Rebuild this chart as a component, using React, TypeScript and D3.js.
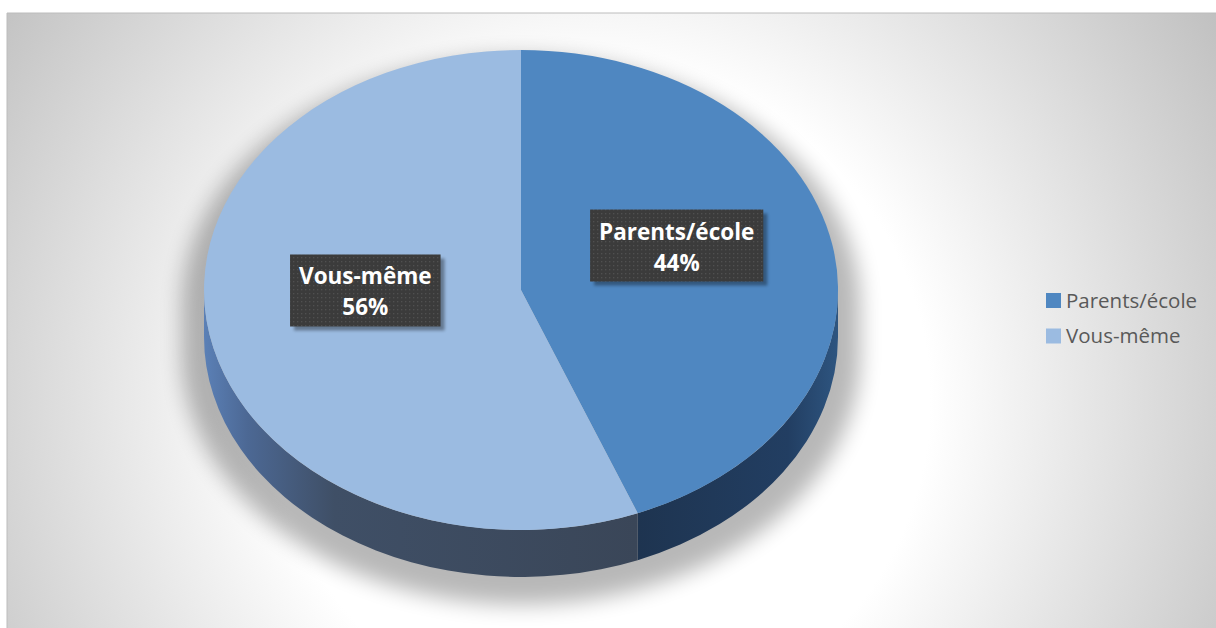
import React from "react";
import * as d3 from "d3";

const categories = ["Parents/école", "Vous-même"];
const values = [44, 56];
const percentLabels = ["44%", "56%"];
const topColors = ["#4f87c1", "#9bbbe1"];
const sideColorStops: [number, string][][] = [
  [[0, "#1e3450"], [0.75, "#223e62"], [1, "#2e5580"]],
  [[0, "#5b80b6"], [0.1, "#4c6894"], [0.3, "#3f4f66"], [1, "#3a4658"]],
];

const W = 1216;
const H = 628;
const cx = 521;
const cy = 290;
const rx = 317;
const ry = 240;
const depth = 47;

const LABEL_FONT = "bold 22.5px 'Open Sans'";
const FONT = "'Open Sans', sans-serif";

function measure(text: string, font: string): number {
  const ctx = document.createElement("canvas").getContext("2d");
  if (!ctx) return text.length * 11;
  ctx.font = font;
  return ctx.measureText(text).width;
}

function pt(a: number, k = 1, dy = 0): [number, number] {
  return [cx + rx * k * Math.sin(a), cy - ry * k * Math.cos(a) + dy];
}
const f = (p: [number, number]) => `${p[0].toFixed(2)},${p[1].toFixed(2)}`;

export default function App() {
  const arcs = d3.pie<number>().sort(null).value((d) => d)(values);

  const topPath = (a0: number, a1: number) =>
    `M${cx},${cy} L${f(pt(a0))} A${rx},${ry} 0 ${a1 - a0 > Math.PI ? 1 : 0} 1 ${f(pt(a1))} Z`;

  const sidePath = (a0: number, a1: number) => {
    const s = Math.max(a0, Math.PI / 2);
    const e = Math.min(a1, (3 * Math.PI) / 2);
    if (s >= e) return null;
    return `M${f(pt(s))} A${rx},${ry} 0 0 1 ${f(pt(e))} L${f(pt(e, 1, depth))} A${rx},${ry} 0 0 0 ${f(pt(s, 1, depth))} Z`;
  };

  const silhouette = `M${f(pt(-Math.PI / 2))} A${rx},${ry} 0 0 1 ${f(pt(Math.PI / 2))} L${f(pt(Math.PI / 2, 1, depth))} A${rx},${ry} 0 0 1 ${f(pt(-Math.PI / 2, 1, depth))} Z`;

  const legendX = 1046;
  const legendY = d3.scalePoint<string>().domain(categories).range([300.5, 336]);

  return (
    <svg
      width={W}
      height={H}
      style={{ position: "absolute", left: 0, top: 0, display: "block" }}
      xmlns="http://www.w3.org/2000/svg"
    >
      <defs>
        <radialGradient id="bg" gradientUnits="userSpaceOnUse" cx={600} cy={400} r={750}>
          <stop offset="0.44" stopColor="#ffffff" />
          <stop offset="1" stopColor="#bdbdbd" />
        </radialGradient>
        {arcs.map((a, i) => {
          const s = Math.max(a.startAngle, Math.PI / 2);
          const e = Math.min(a.endAngle, (3 * Math.PI) / 2);
          const xs = [pt(s)[0], pt(e)[0]];
          return (
            <linearGradient
              key={i}
              id={`side${i}`}
              gradientUnits="userSpaceOnUse"
              x1={Math.min(...xs)}
              x2={Math.max(...xs)}
              y1={0}
              y2={0}
            >
              {sideColorStops[i].map(([o, c], j) => (
                <stop key={j} offset={o} stopColor={c} />
              ))}
            </linearGradient>
          );
        })}
        <filter id="blur" x="-20%" y="-20%" width="140%" height="140%">
          <feGaussianBlur stdDeviation="10" />
        </filter>
        <filter id="boxShadow" x="-20%" y="-20%" width="140%" height="140%">
          <feGaussianBlur stdDeviation="1.5" />
        </filter>
        <pattern id="dots" width="4" height="4" patternUnits="userSpaceOnUse">
          <rect width="4" height="4" fill="#3b3b3b" />
          <rect x="1" y="1" width="1.3" height="1.3" fill="#505050" />
        </pattern>
      </defs>

      {/* chart area */}
      <rect x={7} y={13} width={W} height={H} fill="url(#bg)" />
      <line x1={7} y1={13} x2={W} y2={13} stroke="#bcbcbc" strokeWidth={1} />
      <line x1={7} y1={13} x2={7} y2={H} stroke="#bcbcbc" strokeWidth={1} />

      {/* pie shadow */}
      <path
        d={silhouette}
        fill="#000"
        opacity={0.28}
        filter="url(#blur)"
        transform={`translate(${cx},${cy + 16}) scale(1.07,1.04) translate(${-cx},${-cy})`}
      />

      {/* sides */}
      {arcs.map((a, i) => {
        const d = sidePath(a.startAngle, a.endAngle);
        return d ? <path key={`s${i}`} d={d} fill={`url(#side${i})`} /> : null;
      })}

      {/* top faces */}
      {arcs.map((a, i) => (
        <path key={`t${i}`} d={topPath(a.startAngle, a.endAngle)} fill={topColors[i]} />
      ))}

      {/* data labels */}
      {arcs.map((a, i) => {
        const mid = (a.startAngle + a.endAngle) / 2;
        const [lx, ly0] = pt(mid, 0.5);
        const ly = ly0 - 22;
        const tw = Math.max(measure(categories[i], LABEL_FONT), measure(percentLabels[i], LABEL_FONT));
        const bw = tw + 18;
        const bh = 72;
        const bx = lx - bw / 2;
        const by = ly - bh / 2;
        return (
          <g key={`l${i}`}>
            <rect x={bx + 4} y={by + 4} width={bw} height={bh} fill="#000" opacity={0.35} filter="url(#boxShadow)" />
            <rect x={bx} y={by} width={bw} height={bh} fill="url(#dots)" />
            <text x={lx} y={by + 30} textAnchor="middle" fill="#ffffff" fontFamily={FONT} fontWeight="bold" fontSize={22.5}>
              {categories[i]}
            </text>
            <text x={lx} y={by + 61} textAnchor="middle" fill="#ffffff" fontFamily={FONT} fontWeight="bold" fontSize={22.5}>
              {percentLabels[i]}
            </text>
          </g>
        );
      })}

      {/* legend */}
      {categories.map((c, i) => {
        const y = legendY(c) as number;
        return (
          <g key={`lg${i}`}>
            <rect x={legendX} y={y - 7.5} width={15} height={15} fill={topColors[i]} />
            <text x={legendX + 20} y={y} dy="0.36em" fill="#595959" fontFamily={FONT} fontSize={20.5}>
              {c}
            </text>
          </g>
        );
      })}
    </svg>
  );
}
